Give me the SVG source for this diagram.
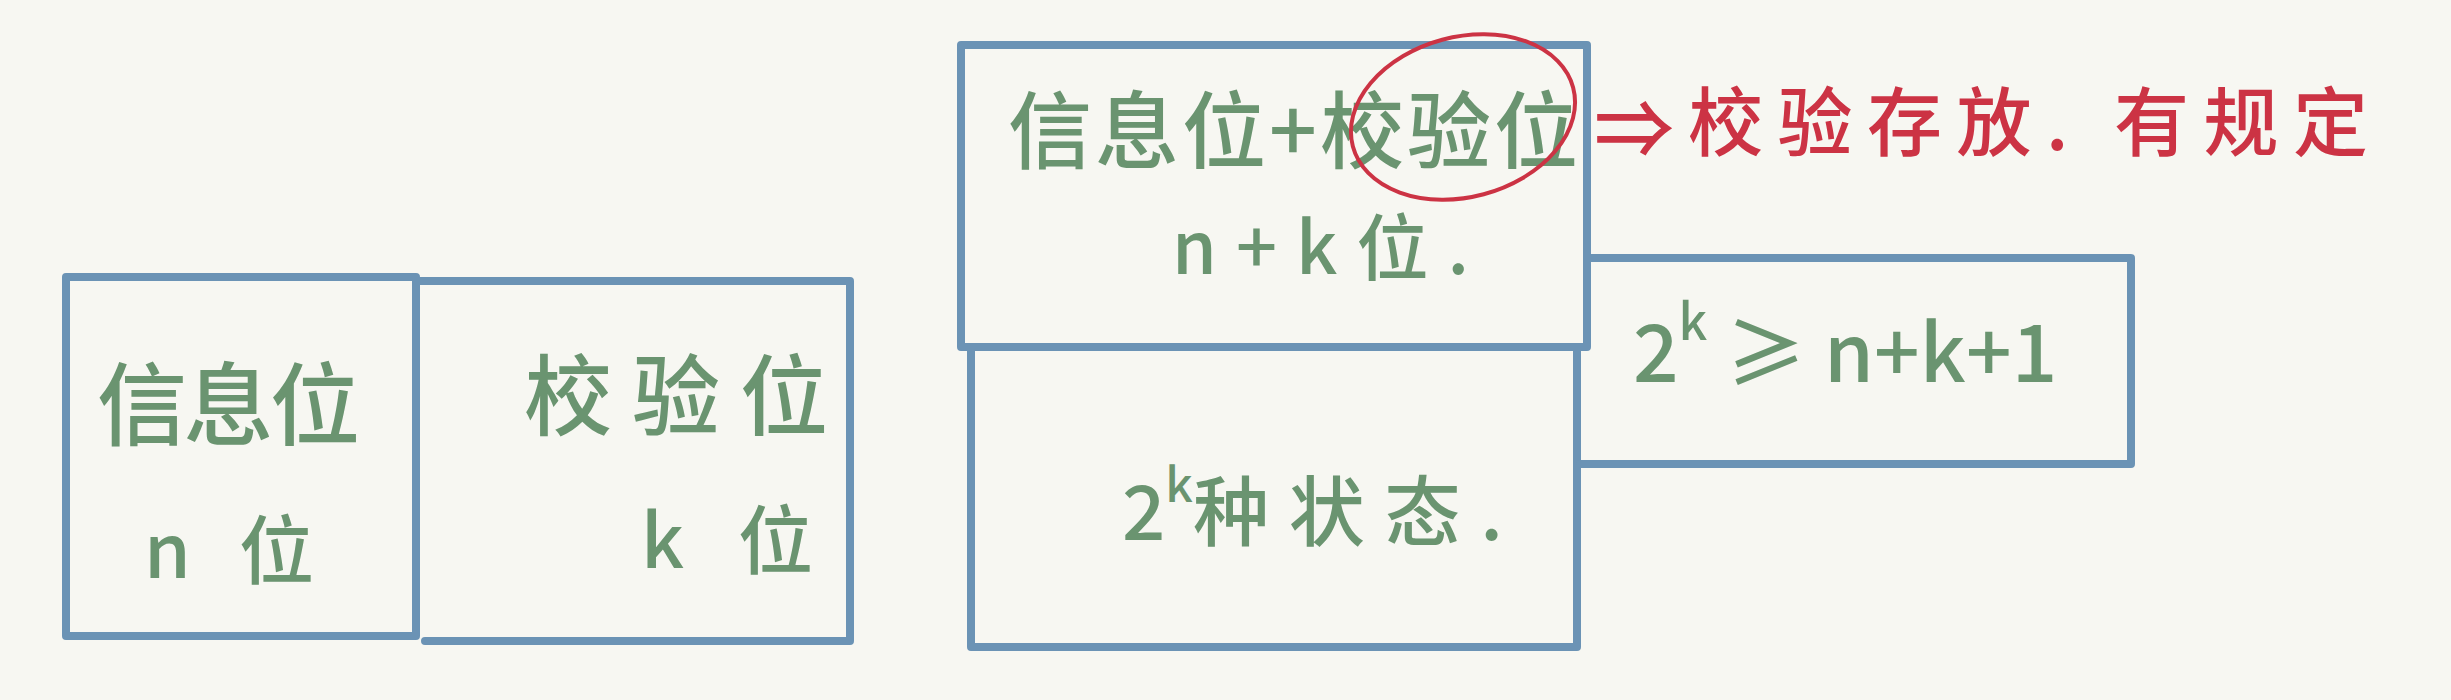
<svg xmlns="http://www.w3.org/2000/svg" width="2451" height="700" viewBox="0 0 2451 700">
<style>
.box{fill:none;stroke:#6b93b5;stroke-width:8;stroke-linecap:round;stroke-linejoin:round}
.g{fill:#6a9470;font-family:"Noto Sans CJK SC","Noto Sans",sans-serif;font-weight:500}
.r{fill:#cc3344;font-family:"Noto Sans CJK SC","Noto Sans",sans-serif;font-weight:500}
</style>
<rect width="2451" height="700" fill="#f7f7f2"/>
<g id="connectors">
<path class="box" d="M416 281 L850 281 L850 641 L425 641"/>
<path class="box" d="M971 347 L971 647 L1577 647 L1577 347"/>
<path class="box" d="M1590 258 L2131 258 L2131 464 L1580 464"/>
</g>
<g id="info-bits">
<rect class="box" x="66" y="277" width="350" height="359"/>
<text class="g" x="97" y="438" font-size="90" textLength="263" lengthAdjust="spacing">信息位</text>
<text class="g" x="144" y="578" font-size="75" textLength="170" lengthAdjust="spacing">n位</text>
</g>
<g id="check-bits">
<text class="g" x="524" y="428" font-size="88" textLength="304" lengthAdjust="spacing">校验位</text>
<text class="g" x="641" y="568" font-size="75" textLength="172" lengthAdjust="spacing">k位</text>
</g>
<g id="total-bits">
<rect class="box" x="961" y="45" width="626" height="302"/>
<text class="g" x="1008" y="162" font-size="84" textLength="570" lengthAdjust="spacing">信息位+校验位</text>
<text class="g" x="1172" y="274" font-size="72" textLength="297" lengthAdjust="spacing">n+k位.</text>
<ellipse cx="1463" cy="117" rx="114" ry="80" transform="rotate(-15 1463 117)" fill="none" stroke="#cc3344" stroke-width="4"/>
</g>
<g id="states">
<text class="g" x="1122" y="540" font-size="76">2<tspan dy="-38" font-size="48">k</tspan><tspan dy="38" textLength="310" lengthAdjust="spacing">种状态.</tspan></text>
</g>
<g id="inequality">
<text class="g" x="1633" y="382" font-size="80">2<tspan dy="-42" font-size="50">k</tspan><tspan dy="42" textLength="350" lengthAdjust="spacing"> ≥ n+k+1</tspan></text>
</g>
<g id="note">
<text class="r" x="1594" y="158" font-size="80">⇒</text>
<text class="r" x="1688" y="150" font-size="75" textLength="680" lengthAdjust="spacing">校验存放. 有规定</text>
</g>
</svg>
